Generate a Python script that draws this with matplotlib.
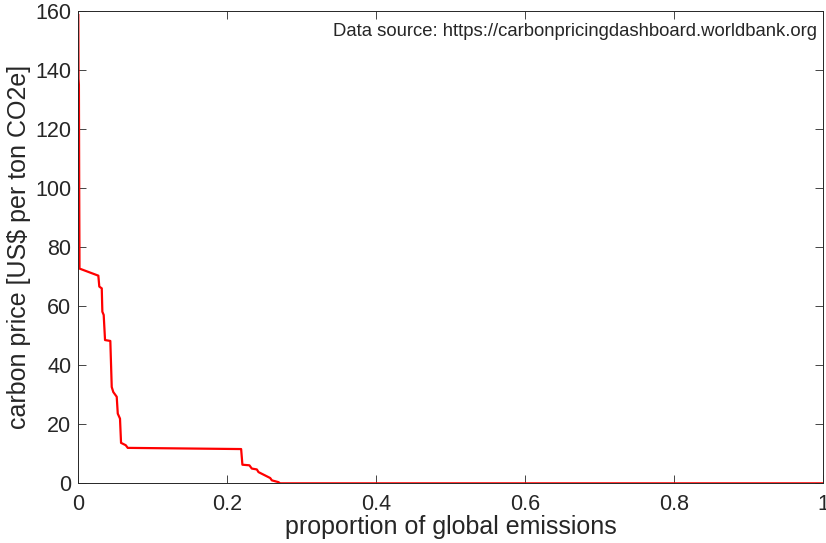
import matplotlib
matplotlib.use("Agg")
import matplotlib.pyplot as plt

# cumulative proportion of global emissions (x) vs carbon price (y), step-like curve
emissions_share = [0.0, 0.0003, 0.0008, 0.0012, 0.0016, 0.0269, 0.0282, 0.0315, 0.0323,
                   0.0341, 0.0359, 0.0430, 0.0449, 0.0470, 0.0516, 0.0530, 0.0560,
                   0.0574, 0.0637, 0.0664, 0.2187, 0.2204, 0.2298, 0.2330, 0.2398,
                   0.2420, 0.2577, 0.2600, 0.2688, 0.2710, 1.0]
carbon_price = [158.5, 137.0, 135.0, 100.0, 72.7, 70.3, 66.6, 66.0, 58.1,
                57.0, 48.5, 48.2, 32.6, 30.9, 29.3, 23.6, 21.9,
                13.7, 12.9, 12.0, 11.6, 6.3, 6.1, 5.0, 4.7,
                3.8, 1.8, 1.0, 0.4, 0.0, 0.0]

x_ticks = [0, 0.2, 0.4, 0.6, 0.8, 1]
x_ticklabels = ["0", "0.2", "0.4", "0.6", "0.8", "1"]
y_ticks = [0, 20, 40, 60, 80, 100, 120, 140, 160]

plt.rcParams['font.family'] = ['Liberation Sans', 'DejaVu Sans']
axcol = '#262626'

fig = plt.figure(figsize=(8.26, 5.43), dpi=100)
ax = fig.add_axes([0.0948, 0.1099, 0.9014, 0.8704])
ax.plot(emissions_share, carbon_price, color='#ff0000', lw=1.6)
ax.set_xlim(0, 1)
ax.set_ylim(0, 160)
ax.set_xticks(x_ticks)
ax.set_xticklabels(x_ticklabels)
ax.set_yticks(y_ticks)
ax.tick_params(direction='in', length=5.5, width=0.6, color=axcol, labelcolor=axcol,
               labelsize=15.5, top=True, right=True)
ax.tick_params(axis='x', pad=8)
ax.tick_params(axis='y', pad=5)
for s in ax.spines.values():
    s.set_color(axcol)
    s.set_linewidth(0.7)
ax.set_xlabel("proportion of global emissions", fontsize=18, color=axcol, labelpad=0)
ax.set_ylabel(r"carbon price [US\$ per ton CO2e]", fontsize=18, color=axcol, labelpad=3)
ax.text(0.992, 0.975, "Data source: https://carbonpricingdashboard.worldbank.org",
        transform=ax.transAxes, ha='right', va='top', fontsize=13.3, color=axcol)
fig.savefig("out.png", dpi=100)
